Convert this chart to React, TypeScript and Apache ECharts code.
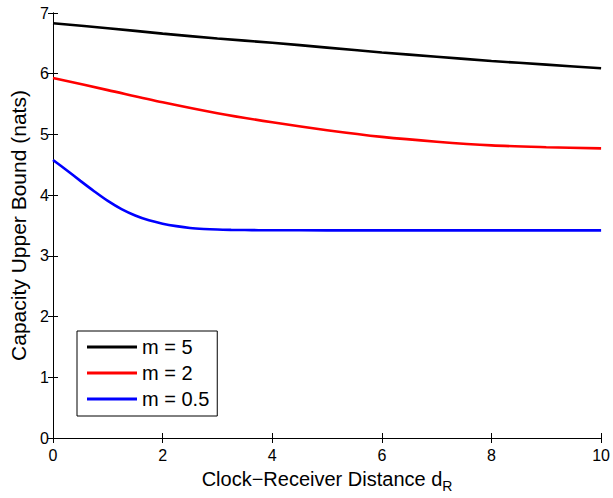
import React, { useEffect, useRef } from "react";
import * as echarts from "echarts";

const distCoarse = [0, 1, 2, 3, 4, 5, 6, 7, 8, 9, 10];
const capM5 = [6.83, 6.75, 6.66, 6.58, 6.51, 6.43, 6.35, 6.28, 6.21, 6.15, 6.09];
const capM2 = [5.93, 5.73, 5.53, 5.35, 5.2, 5.07, 4.96, 4.88, 4.82, 4.79, 4.77];
const distFine = [0, 0.25, 0.5, 0.75, 1, 1.25, 1.5, 1.75, 2, 2.25, 2.5, 2.75, 3, 3.25, 3.5, 3.75, 4, 5, 6, 7, 8, 9, 10];
const capM05 = [4.58, 4.41, 4.235, 4.065, 3.905, 3.77, 3.665, 3.585, 3.53, 3.49, 3.46, 3.443, 3.433, 3.428, 3.425, 3.423, 3.422, 3.42, 3.42, 3.42, 3.42, 3.42, 3.42];
const seriesNames = ["m = 5", "m = 2", "m = 0.5"];
const seriesColors = ["#000000", "#ff0000", "#0000ff"];

const FONT = "'Liberation Sans', Arial, Helvetica, sans-serif";

function pairs(xs: number[], ys: number[]) {
  return xs.map((x, i) => [x, ys[i]]);
}

export default function App() {
  const ref = useRef<HTMLDivElement>(null);
  useEffect(() => {
    if (!ref.current) return;
    const chart = echarts.init(ref.current, null, { renderer: "svg" });
    const axisCommon = {
      axisLine: { show: true, lineStyle: { color: "#000", width: 1 } },
      axisTick: { show: true, inside: true, length: 5, lineStyle: { color: "#000", width: 1 } },
      splitLine: { show: false },
    };
    const datas = [pairs(distCoarse, capM5), pairs(distCoarse, capM2), pairs(distFine, capM05)];
    chart.setOption({
      animation: false,
      backgroundColor: "#ffffff",
      grid: { left: 53, right: 9, top: 13, bottom: 51, containLabel: false },
      legend: {
        orient: "vertical",
        left: 77,
        top: 331,
        data: seriesNames,
        icon: "rect",
        itemWidth: 50,
        itemHeight: 3,
        itemGap: 6,
        padding: [6, 8, 7, 10],
        borderColor: "#000",
        borderWidth: 1,
        borderRadius: 0,
        backgroundColor: "#fff",
        textStyle: { fontFamily: FONT, fontSize: 20, color: "#000", lineHeight: 20 },
      },
      xAxis: [
        {
          type: "value",
          min: 0,
          max: 10,
          interval: 2,
          position: "bottom",
          ...axisCommon,
          axisLabel: { fontFamily: FONT, fontSize: 16, color: "#000", margin: 9 },
          name: "{a|Clock\u2212Receiver Distance d}{b|R}",
          nameLocation: "middle",
          nameGap: 27,
          nameTextStyle: {
            fontFamily: FONT,
            color: "#000",
            rich: {
              a: { fontFamily: FONT, fontSize: 20, color: "#000", lineHeight: 22 },
              b: { fontFamily: FONT, fontSize: 14, color: "#000", padding: [14, 0, 0, 0] },
            },
          },
        },
        {
          type: "value",
          min: 0,
          max: 10,
          interval: 2,
          position: "top",
          ...axisCommon,
          axisLabel: { show: false },
        },
      ],
      yAxis: [
        {
          type: "value",
          min: 0,
          max: 7,
          interval: 1,
          position: "left",
          ...axisCommon,
          axisLabel: { fontFamily: FONT, fontSize: 16, color: "#000", margin: 4 },
          name: "Capacity Upper Bound (nats)",
          nameLocation: "middle",
          nameGap: 23,
          nameTextStyle: { fontFamily: FONT, fontSize: 21, color: "#000" },
        },
        {
          type: "value",
          min: 0,
          max: 7,
          interval: 1,
          position: "right",
          ...axisCommon,
          axisLabel: { show: false },
        },
      ],
      series: seriesNames.map((n, i) => ({
        name: n,
        type: "line",
        data: datas[i],
        smooth: 0.3,
        symbol: "none",
        showSymbol: false,
        xAxisIndex: 0,
        yAxisIndex: 0,
        lineStyle: { color: seriesColors[i], width: 2.6 },
        itemStyle: { color: seriesColors[i] },
      })),
    });
    return () => chart.dispose();
  }, []);
  return (
    <div
      ref={ref}
      style={{ position: "absolute", left: 0, top: 0, width: 613, height: 498 }}
    />
  );
}
